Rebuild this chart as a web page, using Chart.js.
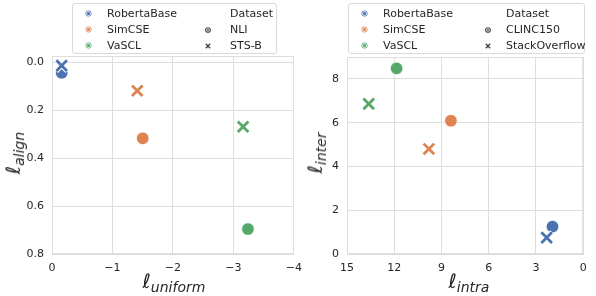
<!DOCTYPE html>
<html>
<head>
<meta charset="utf-8">
<script src="https://cdn.jsdelivr.net/npm/chart.js@4.4.1/dist/chart.umd.min.js"></script>
<style>
  body { margin: 0; background: #fff; font-family: 'DejaVu Sans', sans-serif; color: #262626; }
  #wrap { position: relative; width: 596px; height: 296px; overflow: hidden; }
  canvas { position: absolute; top: 0; }
  .legend { position: absolute; top: 3px; height: 51px; border: 1px solid #d9d9d9; border-radius: 3px;
            background: rgba(255,255,255,0.85); box-sizing: border-box; font-size: 11px; z-index: 5; }
  .item { position: absolute; line-height: 14px; white-space: nowrap; }
  .mk { position: absolute; width: 5px; height: 5px; border-radius: 50%; box-sizing: border-box; }
  .title { position: absolute; font-style: italic; white-space: nowrap; font-size: 20px; color: #262626; z-index: 4; }
  .title sub { font-size: 14px; vertical-align: -4px; }
  .rot { transform: translate(-50%, -50%) rotate(-90deg); }
  .hor { transform: translate(-50%, -50%); }
</style>
</head>
<body>
<div id="wrap">
  <canvas id="leftChart" width="310" height="296" style="left:0;width:310px;height:296px"></canvas>
  <canvas id="rightChart" width="296" height="296" style="left:300px;width:296px;height:296px"></canvas>
  <div id="legendLeft" class="legend" style="left:72px;width:205px"></div>
  <div id="legendRight" class="legend" style="left:348px;width:237px"></div>
  <div class="title rot" style="left:14px;top:153px">ℓ<sub>align</sub></div>
  <div class="title hor" style="left:174px;top:282px">ℓ<sub>uniform</sub></div>
  <div class="title rot" style="left:316px;top:153px">ℓ<sub>inter</sub></div>
  <div class="title hor" style="left:469px;top:282px">ℓ<sub>intra</sub></div>
</div>
<script>
const models = ['RobertaBase', 'SimCSE', 'VaSCL'];
const modelColors = ['#4C72B0', '#DD8452', '#55A868'];

// left: alignment vs uniformity
const leftDatasets = ['NLI', 'STS-B'];
const uniformNLI = [-0.16, -1.50, -3.24];
const alignNLI = [0.045, 0.318, 0.696];
const uniformSTS = [-0.16, -1.41, -3.16];
const alignSTS = [0.015, 0.12, 0.27];

// right: inter vs intra
const rightDatasets = ['CLINC150', 'StackOverflow'];
const intraCLINC = [1.95, 8.4, 11.85];
const interCLINC = [1.25, 6.09, 8.48];
const intraSO = [2.32, 9.8, 13.62];
const interSO = [0.75, 4.8, 6.86];

const xTicksLeft = [0, -1, -2, -3, -4];
const yTicksLeft = [0, 0.2, 0.4, 0.6, 0.8];
const xTicksRight = [15, 12, 9, 6, 3, 0];
const yTicksRight = [0, 2, 4, 6, 8];

const gridColor = '#dedede';
const tickFont = { family: 'DejaVu Sans', size: 11 };

function pts(xs, ys) {
    return xs.map((x, i) => ({ x: x, y: ys[i] }));
}

const frame = {
    id: 'frame',
    afterDraw(chart) {
        const a = chart.chartArea;
        const ctx = chart.ctx;
        ctx.save();
        ctx.strokeStyle = gridColor;
        ctx.lineWidth = 1;
        ctx.strokeRect(a.left + 0.5, a.top + 0.5, a.right - a.left - 1, a.bottom - a.top - 1);
        ctx.restore();
    },
};

function makeDatasets(circleXs, circleYs, crossXs, crossYs) {
    return [
        {
            data: pts(circleXs, circleYs),
            pointStyle: 'circle',
            pointRadius: 6.3,
            pointBackgroundColor: modelColors,
            pointBorderColor: '#ffffff',
            pointBorderWidth: 0.8,
            order: 3,
        },
        {
            data: pts(crossXs, crossYs),
            pointStyle: 'crossRot',
            pointRadius: 7.8,
            pointBorderColor: '#ffffff',
            pointBorderWidth: 5,
            order: 2,
        },
        {
            data: pts(crossXs, crossYs),
            pointStyle: 'crossRot',
            pointRadius: 7.5,
            pointBorderColor: modelColors,
            pointBorderWidth: 2.8,
            order: 1,
        },
    ];
}

function axis(min, max, ticks, fmt, fit) {
    return {
        type: 'linear',
        min: min,
        max: max,
        reverse: true,
        afterBuildTicks(scale) {
            scale.ticks = ticks.map((v) => ({ value: v }));
        },
        afterFit: fit,
        grid: { color: gridColor, drawTicks: false },
        border: { color: gridColor },
        ticks: { font: tickFont, color: '#262626', padding: 8, callback: fmt },
    };
}

const minus = (v) => (v < 0 ? '\u2212' + Math.abs(v) : String(v));

function makeChart(id, datasets, xScale, yScale, padding) {
    return new Chart(document.getElementById(id), {
        type: 'scatter',
        data: { datasets: datasets },
        options: {
            responsive: false,
            animation: false,
            layout: { padding: padding },
            plugins: { legend: { display: false }, tooltip: { enabled: false } },
            scales: { x: xScale, y: yScale },
        },
        plugins: [frame],
    });
}

makeChart(
    'leftChart',
    makeDatasets(uniformNLI, alignNLI, uniformSTS, alignSTS),
    axis(-4, 0, xTicksLeft, minus, (s) => { s.height = 42; }),
    axis(-0.025, 0.8, yTicksLeft, (v) => v.toFixed(1), (s) => { s.width = 52; }),
    { top: 56, right: 13, left: 0, bottom: 0 }
);

makeChart(
    'rightChart',
    makeDatasets(intraCLINC, interCLINC, intraSO, interSO),
    Object.assign(axis(0, 15, xTicksRight, (v) => String(v), (s) => { s.height = 42; }), { reverse: true }),
    Object.assign(axis(0, 9, yTicksRight, (v) => String(v), (s) => { s.width = 47; }), { reverse: false }),
    { top: 57, right: 3, left: 0, bottom: 0 }
);

// html legends
function hueMarker(color) {
    return `<span class="mk" style="background:${color};border:1px solid rgba(255,255,255,0.7);box-shadow:0 0 0 0.5px ${color}"></span>`;
}
function styleMarker(kind) {
    if (kind === 0) {
        return '<svg class="mk" width="6" height="6" viewBox="0 0 6 6" style="border-radius:0;width:6px;height:6px"><circle cx="3" cy="3" r="2.3" fill="none" stroke="#444" stroke-width="1.1"/><circle cx="3" cy="3" r="0.9" fill="#444"/></svg>';
    }
    return '<svg class="mk" width="6" height="6" viewBox="0 0 6 6" style="border-radius:0;width:6px;height:6px"><path d="M0.8 0.8 L5.2 5.2 M5.2 0.8 L0.8 5.2" stroke="#444" stroke-width="1.4"/></svg>';
}

function buildLegend(elId, names, col1Marker, col1Text, col2Marker, col2Text) {
    const el = document.getElementById(elId);
    const rows = [10, 26, 42];
    let html = '';
    models.forEach((m, i) => {
        html += `<div class="item" style="left:${col1Marker}px;top:${rows[i] - 3}px">${hueMarker(modelColors[i])}</div>`;
        html += `<div class="item" style="left:${col1Text}px;top:${rows[i] - 7}px">${m}</div>`;
    });
    html += `<div class="item" style="left:${col2Text}px;top:${rows[0] - 7}px">Dataset</div>`;
    names.forEach((n, i) => {
        html += `<div class="item" style="left:${col2Marker}px;top:${rows[i + 1] - 3}px">${styleMarker(i)}</div>`;
        html += `<div class="item" style="left:${col2Text}px;top:${rows[i + 1] - 7}px">${n}</div>`;
    });
    el.innerHTML = html;
}

buildLegend('legendLeft', leftDatasets, 13, 34, 132, 157);
buildLegend('legendRight', rightDatasets, 13, 34, 136, 157);
</script>
</body>
</html>
